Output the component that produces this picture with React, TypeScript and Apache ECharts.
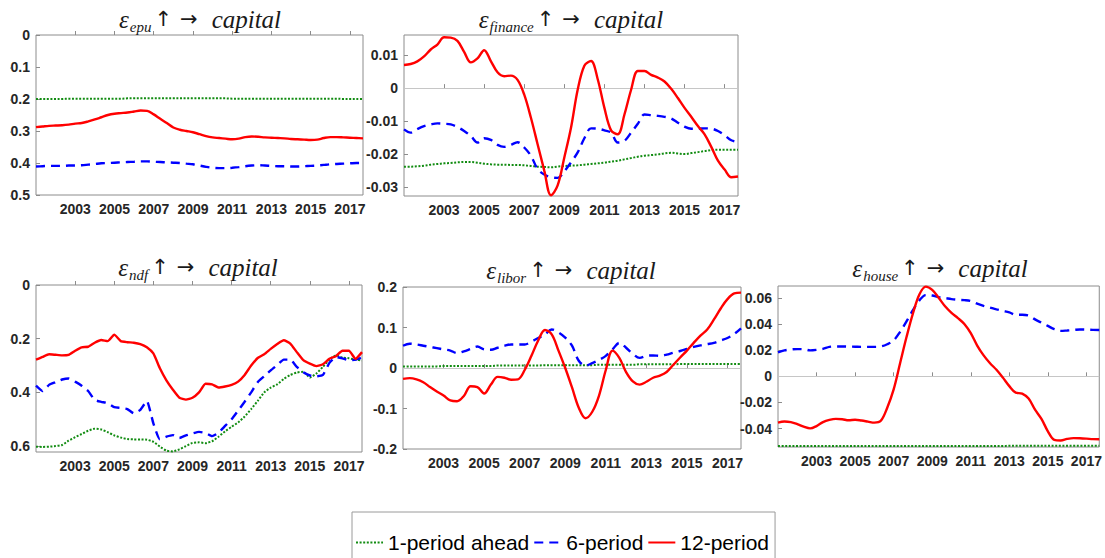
import React, { useEffect, useRef } from "react";
import * as echarts from "echarts";

// Sample dates: every four months from 2001 to 2017 (Sep)
const dates: number[] = Array.from({ length: 51 }, (_, i) => 2001 + i / 3);

const yearTicks = [2003, 2005, 2007, 2009, 2011, 2013, 2015, 2017];

const epuTicks = [0, -0.1, -0.2, -0.3, -0.4, -0.5];
const financeTicks = [0.01, 0, -0.01, -0.02, -0.03];
const ndfTicks = [0, -0.2, -0.4, -0.6];
const liborTicks = [0.2, 0.1, 0, -0.1, -0.2];
const houseTicks = [0.06, 0.04, 0.02, 0, -0.02, -0.04];

const seriesNames = ["1-period ahead", "6-period", "12-period"];

// epu shock
const epuGreen = [
  -0.2, -0.2, -0.2, -0.2, -0.2, -0.199, -0.199, -0.199, -0.199, -0.199,
  -0.199, -0.199, -0.199, -0.199, -0.198, -0.198, -0.198, -0.198, -0.198, -0.198,
  -0.198, -0.198, -0.198, -0.198, -0.198, -0.198, -0.198, -0.198, -0.198, -0.198,
  -0.199, -0.199, -0.199, -0.199, -0.199, -0.199, -0.199, -0.199, -0.199, -0.199,
  -0.199, -0.199, -0.199, -0.199, -0.199, -0.199, -0.199, -0.2, -0.2, -0.2,
  -0.2,
];
const epuBlue = [
  -0.411, -0.41, -0.409, -0.409, -0.409, -0.408, -0.408, -0.407, -0.405, -0.403,
  -0.401, -0.4, -0.399, -0.398, -0.397, -0.396, -0.395, -0.395, -0.396, -0.397,
  -0.398, -0.399, -0.4, -0.402, -0.404, -0.408, -0.412, -0.415, -0.416, -0.416,
  -0.415, -0.413, -0.41, -0.408, -0.407, -0.408, -0.409, -0.41, -0.41, -0.411,
  -0.411, -0.41, -0.409, -0.408, -0.406, -0.404, -0.403, -0.402, -0.401, -0.4,
  -0.4,
];
const epuRed = [
  -0.288, -0.286, -0.284, -0.283, -0.282, -0.28, -0.277, -0.275, -0.27, -0.264,
  -0.257, -0.25, -0.246, -0.244, -0.242, -0.239, -0.236, -0.237, -0.248, -0.262,
  -0.275, -0.289, -0.296, -0.3, -0.304, -0.31, -0.316, -0.32, -0.322, -0.324,
  -0.326, -0.324, -0.319, -0.317, -0.318, -0.32, -0.321, -0.322, -0.323, -0.325,
  -0.326, -0.327, -0.328, -0.327, -0.322, -0.319, -0.319, -0.32, -0.321, -0.322,
  -0.323,
];

// finance shock
const financeGreen = [
  -0.0238, -0.0238, -0.0237, -0.0235, -0.0232, -0.023, -0.0228, -0.0227, -0.0225, -0.0224,
  -0.0224, -0.0226, -0.0229, -0.0231, -0.0232, -0.0232, -0.0233, -0.0233, -0.0234, -0.0236,
  -0.0238, -0.0239, -0.024, -0.0238, -0.0236, -0.0235, -0.0234, -0.0232, -0.023, -0.0228,
  -0.0226, -0.0223, -0.022, -0.0216, -0.0212, -0.0208, -0.0205, -0.0203, -0.0201, -0.0198,
  -0.0196, -0.0198, -0.02, -0.0197, -0.0194, -0.0191, -0.0188, -0.0187, -0.0187, -0.0187,
  -0.0187,
];
const financeBlue = [
  -0.0125, -0.0135, -0.0124, -0.0115, -0.011, -0.0107, -0.0108, -0.011, -0.0118, -0.013,
  -0.0145, -0.0165, -0.0152, -0.0157, -0.0172, -0.0178, -0.0172, -0.0164, -0.018, -0.0205,
  -0.0245, -0.0262, -0.027, -0.0272, -0.0252, -0.0225, -0.0195, -0.0152, -0.0122, -0.0123,
  -0.0128, -0.0135, -0.0165, -0.016, -0.0135, -0.0108, -0.008, -0.0082, -0.0084, -0.0087,
  -0.0092, -0.0105, -0.0117, -0.0123, -0.0123, -0.0122, -0.0123, -0.013, -0.0143, -0.0158,
  -0.0163,
];
const financeRed = [
  0.007, 0.0073, 0.0081, 0.0096, 0.0117, 0.0132, 0.0154, 0.0153, 0.0143, 0.011,
  0.0078, 0.009, 0.0115, 0.0082, 0.0048, 0.0036, 0.0038, 0.0025, -0.002, -0.009,
  -0.017, -0.025, -0.0325, -0.0295, -0.021, -0.012, -0.0005, 0.0068, 0.0082, 0.0027,
  -0.006, -0.0128, -0.014, -0.008, -0.0005, 0.0052, 0.0052, 0.004, 0.0032, 0.002,
  -0.0002, -0.003, -0.006, -0.0087, -0.0115, -0.014, -0.0178, -0.022, -0.0247, -0.027,
  -0.0268,
];

// ndf shock
const ndfGreen = [
  -0.602, -0.603, -0.602, -0.6, -0.596, -0.58, -0.567, -0.555, -0.543, -0.535,
  -0.538, -0.548, -0.56, -0.568, -0.574, -0.575, -0.575, -0.576, -0.584, -0.602,
  -0.617, -0.62, -0.612, -0.6, -0.588, -0.586, -0.589, -0.582, -0.565, -0.545,
  -0.528, -0.512, -0.49, -0.462, -0.432, -0.4, -0.382, -0.37, -0.35, -0.335,
  -0.326, -0.323, -0.345, -0.33, -0.305, -0.278, -0.262, -0.27, -0.273, -0.278,
  -0.281,
];
const ndfBlue = [
  -0.375, -0.395, -0.372, -0.362, -0.352, -0.348, -0.36, -0.375, -0.395, -0.428,
  -0.435, -0.44, -0.455, -0.458, -0.462, -0.478, -0.465, -0.432, -0.515, -0.575,
  -0.565, -0.559, -0.57, -0.56, -0.553, -0.547, -0.551, -0.563, -0.55, -0.525,
  -0.5, -0.468, -0.435, -0.4, -0.362, -0.34, -0.318, -0.298, -0.278, -0.278,
  -0.305, -0.325, -0.337, -0.34, -0.335, -0.29, -0.268, -0.273, -0.28, -0.278,
  -0.27,
];
const ndfRed = [
  -0.278, -0.268, -0.258, -0.26, -0.262, -0.26, -0.245, -0.232, -0.23, -0.215,
  -0.205, -0.209, -0.185, -0.209, -0.213, -0.215, -0.22, -0.232, -0.255, -0.31,
  -0.355, -0.39, -0.42, -0.427, -0.42, -0.4, -0.368, -0.37, -0.382, -0.378,
  -0.372, -0.36, -0.335, -0.3, -0.272, -0.258, -0.238, -0.22, -0.206, -0.218,
  -0.25, -0.28, -0.293, -0.302, -0.295, -0.275, -0.265, -0.245, -0.245, -0.275,
  -0.25,
];

// libor shock
const liborGreen = [
  0.004, 0.004, 0.004, 0.004, 0.004, 0.004, 0.005, 0.005, 0.005, 0.005,
  0.005, 0.005, 0.005, 0.005, 0.006, 0.006, 0.006, 0.006, 0.006, 0.006,
  0.006, 0.007, 0.007, 0.007, 0.007, 0.007, 0.007, 0.007, 0.007, 0.008,
  0.008, 0.008, 0.008, 0.008, 0.008, 0.009, 0.009, 0.009, 0.009, 0.009,
  0.009, 0.01, 0.01, 0.01, 0.01, 0.01, 0.01, 0.01, 0.01, 0.01,
  0.01,
];
const liborBlue = [
  0.055, 0.06, 0.058, 0.055, 0.052, 0.049, 0.046, 0.043, 0.037, 0.041,
  0.047, 0.053, 0.046, 0.045, 0.05, 0.055, 0.058, 0.058, 0.058, 0.065,
  0.074, 0.083, 0.095, 0.088, 0.075, 0.055, 0.018, 0.006, 0.012, 0.02,
  0.03, 0.046, 0.062, 0.05, 0.035, 0.025, 0.03, 0.031, 0.03, 0.033,
  0.038, 0.042, 0.047, 0.052, 0.056, 0.059, 0.062, 0.068, 0.074, 0.084,
  0.098,
];
const liborRed = [
  -0.027, -0.025, -0.028, -0.035, -0.047, -0.058, -0.068, -0.08, -0.082, -0.069,
  -0.045, -0.047, -0.063, -0.041, -0.022, -0.024, -0.029, -0.028, -0.005, 0.03,
  0.068, 0.094, 0.083, 0.043, 0.0, -0.048, -0.098, -0.124, -0.108, -0.068,
  -0.005, 0.043, 0.025, -0.01, -0.033, -0.041, -0.034, -0.024, -0.019, -0.01,
  0.008, 0.026, 0.043, 0.062, 0.08, 0.095, 0.12, 0.147, 0.17, 0.184,
  0.186,
];

// house shock
const houseGreen = [
  -0.0533, -0.0533, -0.0533, -0.0533, -0.0533, -0.0533, -0.0533, -0.0533, -0.0533, -0.0533,
  -0.0533, -0.0533, -0.0533, -0.0533, -0.0533, -0.0533, -0.0533, -0.0532, -0.0532, -0.0532,
  -0.0532, -0.0532, -0.0532, -0.0532, -0.0532, -0.0532, -0.0532, -0.0532, -0.0532, -0.0532,
  -0.0532, -0.0532, -0.0532, -0.0532, -0.0532, -0.0532, -0.0531, -0.0531, -0.0531, -0.0531,
  -0.0531, -0.0531, -0.0531, -0.0531, -0.0531, -0.0531, -0.0531, -0.0531, -0.0531, -0.0531,
  -0.0531,
];
const houseBlue = [
  0.0182, 0.0198, 0.0205, 0.0208, 0.0207, 0.0198, 0.0202, 0.021, 0.0225, 0.0228,
  0.0228, 0.0227, 0.0226, 0.0225, 0.0225, 0.0225, 0.0228, 0.0245, 0.0275, 0.034,
  0.042, 0.0505, 0.058, 0.062, 0.0617, 0.0605, 0.0598, 0.059, 0.0585, 0.0582,
  0.0575, 0.0555, 0.0538, 0.0525, 0.0512, 0.05, 0.0488, 0.047, 0.047, 0.0465,
  0.0435, 0.041, 0.0385, 0.036, 0.0347, 0.035, 0.0354, 0.0358, 0.0357, 0.0355,
  0.0354,
];
const houseRed = [
  -0.0354, -0.0345, -0.035, -0.0365, -0.0385, -0.0398, -0.038, -0.035, -0.0333, -0.0325,
  -0.0328, -0.0336, -0.0332, -0.0338, -0.0346, -0.0354, -0.034, -0.024, -0.01, 0.01,
  0.03, 0.048, 0.0625, 0.0685, 0.066, 0.06, 0.0535, 0.0485, 0.0445, 0.04,
  0.033, 0.0235, 0.016, 0.01, 0.005, -0.001, -0.0075, -0.0125, -0.0132, -0.017,
  -0.0255, -0.0325, -0.042, -0.0485, -0.049, -0.0478, -0.0472, -0.0473, -0.0476, -0.048,
  -0.0481,
];

// Panel layout (pixel boxes of each plot area) and axis ranges
const panels = [
  { sub: "epu", box: { left: 36, top: 35, width: 327, height: 160 }, yMin: -0.5, yMax: 0, ticks: epuTicks, zero: false, smooth: 0.35, title: [200, 19], lines: [epuGreen, epuBlue, epuRed] },
  { sub: "finance", box: { left: 404, top: 35, width: 334, height: 161 }, yMin: -0.0327, yMax: 0.0161, ticks: financeTicks, zero: true, smooth: 0.35, title: [571, 19], lines: [financeGreen, financeBlue, financeRed] },
  { sub: "ndf", box: { left: 36, top: 285, width: 326, height: 167 }, yMin: -0.622, yMax: 0, ticks: ndfTicks, zero: false, smooth: 0.15, title: [198, 267], lines: [ndfGreen, ndfBlue, ndfRed] },
  { sub: "libor", box: { left: 403, top: 287, width: 338, height: 162 }, yMin: -0.2, yMax: 0.2, ticks: liborTicks, zero: true, smooth: 0.35, title: [571, 270], lines: [liborGreen, liborBlue, liborRed] },
  { sub: "house", box: { left: 778, top: 286, width: 324, height: 161 }, yMin: -0.054, yMax: 0.069, ticks: houseTicks, zero: true, smooth: 0.35, title: [940, 268], lines: [houseGreen, houseBlue, houseRed] },
];

const lineStyles = [
  { color: "#128c12", width: 2, type: [2, 1.6] as number[] },
  { color: "#0000ff", width: 2.4, type: [9, 6] as number[] },
  { color: "#ff0000", width: 2.4, type: "solid" as any },
];

const tickFont = {
  fontSize: 14,
  fontWeight: "bold" as const,
  color: "#262626",
  fontFamily: "'Liberation Sans', Arial, sans-serif",
};

const serif = "'Liberation Serif', 'DejaVu Serif', serif";
const arrowFont = "'DejaVu Sans', sans-serif";

function buildOption() {
  const grid = panels.map((p) => ({
    ...p.box,
    show: true,
    borderColor: "#8c8c8c",
    borderWidth: 1,
    backgroundColor: "transparent",
  }));

  const xAxis = panels.map((_, i) => ({
    type: "value",
    gridIndex: i,
    min: dates[0],
    max: dates[dates.length - 1],
    axisLine: { show: false },
    splitLine: { show: false },
    axisTick: {
      show: true,
      inside: true,
      length: 4,
      customValues: yearTicks,
      lineStyle: { color: "#8c8c8c" },
    },
    axisLabel: {
      ...tickFont,
      margin: 7,
      customValues: yearTicks,
      formatter: (v: number) => String(v),
    },
  }));

  const yAxis = panels.map((p, i) => ({
    type: "value",
    gridIndex: i,
    min: p.yMin,
    max: p.yMax,
    axisLine: { show: false },
    splitLine: { show: false },
    axisTick: {
      show: true,
      inside: true,
      length: 4,
      customValues: p.ticks,
      lineStyle: { color: "#8c8c8c" },
    },
    axisLabel: {
      ...tickFont,
      margin: 6,
      customValues: p.ticks,
      formatter: (v: number) => String(v),
    },
  }));

  const series: any[] = [];
  panels.forEach((p, i) => {
    p.lines.forEach((vals, k) => {
      const s: any = {
        type: "line",
        name: seriesNames[k],
        xAxisIndex: i,
        yAxisIndex: i,
        data: dates.map((d, j) => [d, vals[j]]),
        symbol: "none",
        showSymbol: false,
        smooth: p.smooth,
        clip: true,
        z: 3 + k,
        lineStyle: { ...lineStyles[k] },
        itemStyle: { color: lineStyles[k].color },
        emphasis: { disabled: true },
      };
      if (k === 0 && p.zero) {
        s.markLine = {
          silent: true,
          symbol: "none",
          label: { show: false },
          lineStyle: { color: "#c6c6c6", type: "solid", width: 1 },
          emphasis: { disabled: true },
          data: [{ yAxis: 0 }],
        };
      }
      series.push(s);
    });
  });

  const titles = panels.map((p) => ({
    type: "text",
    x: p.title[0],
    y: p.title[1],
    z: 100,
    style: {
      text: `{e|ε}{s|${p.sub}}{u|↑}{r|→}{c|capital}`,
      align: "center",
      verticalAlign: "middle",
      fill: "#1a1a1a",
      rich: {
        e: { fontFamily: serif, fontSize: 25, fontStyle: "italic", lineHeight: 30, fill: "#1a1a1a" },
        s: { fontFamily: serif, fontSize: 15, fontStyle: "italic", lineHeight: 16, verticalAlign: "bottom", padding: [0, 3, 0, 1], fill: "#1a1a1a" },
        u: { fontFamily: arrowFont, fontSize: 21, lineHeight: 30, padding: [0, 8, 0, 0], fill: "#1a1a1a" },
        r: { fontFamily: arrowFont, fontSize: 21, lineHeight: 30, padding: [0, 14, 0, 0], fill: "#1a1a1a" },
        c: { fontFamily: serif, fontSize: 25, fontStyle: "italic", lineHeight: 30, fill: "#1a1a1a" },
      },
    },
  }));

  return {
    animation: false,
    backgroundColor: "#ffffff",
    grid,
    xAxis,
    yAxis,
    series,
    legend: {
      data: seriesNames,
      left: 352,
      top: 512,
      orient: "horizontal",
      selectedMode: false,
      itemWidth: 27,
      itemHeight: 14,
      itemGap: 4,
      padding: [20, 6, 20, 3],
      borderColor: "#9a9a9a",
      borderWidth: 1,
      backgroundColor: "#ffffff",
      itemStyle: { opacity: 0 },
      textStyle: {
        fontSize: 21,
        color: "#000000",
        fontFamily: "'Liberation Sans', Arial, sans-serif",
      },
    },
    graphic: [
      ...titles,
      // the page edge trims the left-most tick labels
      { type: "rect", z: 100, shape: { x: 0, y: 25, width: 10, height: 440 }, style: { fill: "#ffffff" } },
    ],
  };
}

export default function App() {
  const ref = useRef<HTMLDivElement>(null);

  useEffect(() => {
    if (!ref.current) return;
    const chart = echarts.init(ref.current, undefined, { renderer: "svg" });
    chart.setOption(buildOption() as any);
    return () => chart.dispose();
  }, []);

  return (
    <div
      ref={ref}
      style={{ position: "absolute", left: 0, top: 0, width: 1105, height: 558, background: "#fff" }}
    />
  );
}
